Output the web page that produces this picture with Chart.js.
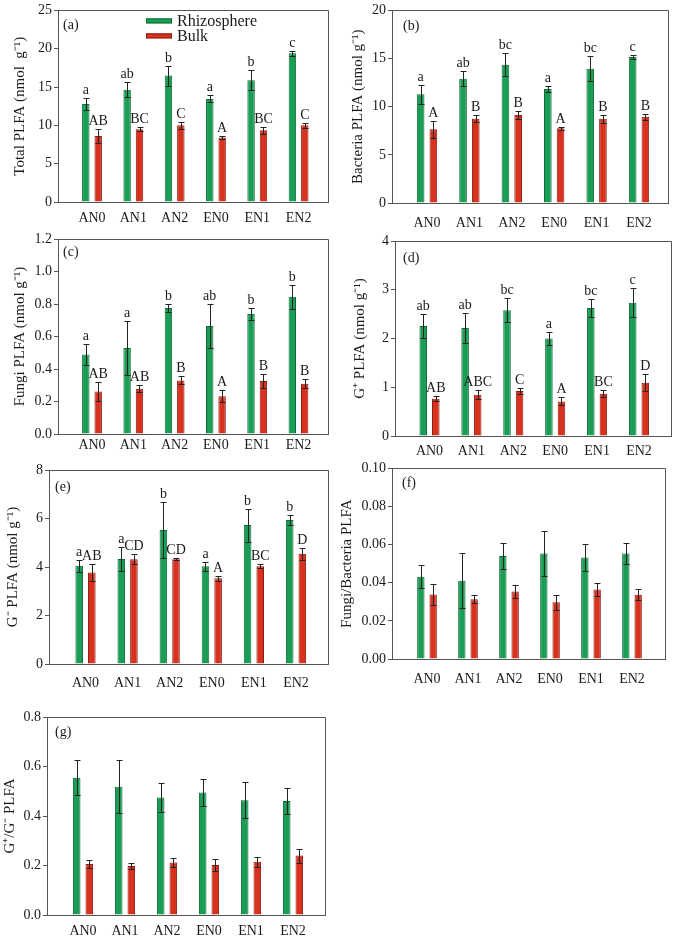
<!DOCTYPE html>
<html>
<head>
<meta charset="utf-8">
<script src="https://cdn.jsdelivr.net/npm/chart.js@4.4.0/dist/chart.umd.min.js"></script>
<style>
  html, body { margin: 0; padding: 0; background: #fff; }
  #page { position: relative; width: 675px; height: 938px; overflow: hidden; }
  #page canvas { position: absolute; }
</style>
</head>
<body>
<div id="page"></div>
<script>
// --- DATA ---
const categories = ['AN0', 'AN1', 'AN2', 'EN0', 'EN1', 'EN2'];
const seriesNames = ['Rhizosphere', 'Bulk'];

// (a) Total PLFA
const totalRhizo = [12.8, 14.65, 16.5, 13.45, 15.9, 19.4];
const totalRhizoErr = [0.8, 0.95, 1.3, 0.45, 1.3, 0.3];
const totalBulk = [8.6, 9.5, 10.0, 8.4, 9.35, 10.0];
const totalBulkErr = [0.95, 0.25, 0.5, 0.15, 0.45, 0.35];
const totalRhizoLetters = ['a', 'ab', 'b', 'a', 'b', 'c'];
const totalBulkLetters = ['AB', 'BC', 'C', 'A', 'BC', 'C'];

// (b) Bacteria PLFA
const bactRhizo = [11.3, 12.9, 14.35, 11.85, 13.95, 15.15];
const bactRhizoErr = [1.0, 0.8, 1.2, 0.3, 1.3, 0.2];
const bactBulk = [7.65, 8.75, 9.15, 7.75, 8.75, 8.95];
const bactBulkErr = [0.9, 0.35, 0.45, 0.15, 0.4, 0.3];
const bactRhizoLetters = ['a', 'ab', 'bc', 'a', 'bc', 'c'];
const bactBulkLetters = ['A', 'B', 'B', 'A', 'B', 'B'];

// (c) Fungi PLFA
const fungiRhizo = [0.49, 0.53, 0.775, 0.665, 0.738, 0.845];
const fungiRhizoErr = [0.065, 0.165, 0.025, 0.135, 0.037, 0.073];
const fungiBulk = [0.262, 0.279, 0.33, 0.233, 0.326, 0.309];
const fungiBulkErr = [0.057, 0.02, 0.025, 0.035, 0.043, 0.027];
const fungiRhizoLetters = ['a', 'a', 'b', 'ab', 'b', 'b'];
const fungiBulkLetters = ['AB', 'AB', 'B', 'A', 'B', 'B'];

// (d) G+ PLFA
const gposRhizo = [2.255, 2.215, 2.58, 2.0, 2.625, 2.735];
const gposRhizoErr = [0.24, 0.31, 0.25, 0.13, 0.19, 0.3];
const gposBulk = [0.766, 0.848, 0.923, 0.71, 0.868, 1.094];
const gposBulkErr = [0.055, 0.09, 0.07, 0.08, 0.075, 0.18];
const gposRhizoLetters = ['ab', 'ab', 'bc', 'a', 'bc', 'c'];
const gposBulkLetters = ['AB', 'ABC', 'C', 'A', 'BC', 'D'];

// (e) G- PLFA
const gnegRhizo = [4.05, 4.33, 5.53, 4.03, 5.73, 5.94];
const gnegRhizoErr = [0.25, 0.5, 1.14, 0.19, 0.68, 0.2];
const gnegBulk = [3.77, 4.32, 4.32, 3.54, 4.03, 4.55];
const gnegBulkErr = [0.34, 0.2, 0.04, 0.1, 0.08, 0.25];
const gnegRhizoLetters = ['a', 'a', 'b', 'a', 'b', 'b'];
const gnegBulkLetters = ['AB', 'CD', 'CD', 'A', 'BC', 'D'];

// (f) Fungi/Bacteria
const fbRhizo = [0.0432, 0.041, 0.054, 0.0554, 0.0532, 0.0554];
const fbRhizoErr = [0.006, 0.0145, 0.0066, 0.012, 0.0071, 0.0054];
const fbBulk = [0.0339, 0.0314, 0.0354, 0.0298, 0.0364, 0.0337];
const fbBulkErr = [0.0054, 0.0022, 0.0036, 0.004, 0.0036, 0.0029];

// (g) G+/G-
const gratioRhizo = [0.555, 0.518, 0.475, 0.495, 0.464, 0.461];
const gratioRhizoErr = [0.07, 0.107, 0.059, 0.054, 0.073, 0.054];
const gratioBulk = [0.206, 0.198, 0.212, 0.202, 0.215, 0.24];
const gratioBulkErr = [0.016, 0.013, 0.018, 0.024, 0.02, 0.028];

// y axis tick settings per panel
const yMaxes = [25, 20, 1.2, 4, 8, 0.10, 0.8];
const ySteps = [5, 5, 0.2, 1, 2, 0.02, 0.2];
const yDecimals = [0, 0, 1, 0, 0, 2, 1];

// --- STYLE / LAYOUT ---
const GREEN = '#1a9e56';
const GREEN_EDGE = '#0e6a38';
const RED = '#d8321f';
const RED_EDGE = '#8e1c10';
const AXIS = '#555555';
const TEXT = '#1a1a1a';
const SERIF = "'Liberation Serif', 'Times New Roman', serif";

// canvas box [x, y, w, h], frame [left, top, right, bottom], group centres of first/last category,
// y title centre x, label gap under x axis, panel tag offset
const panels = [
  { tag: '(a)', title: 'Total PLFA (nmol  g⁻¹)', rhizo: totalRhizo, rhizoErr: totalRhizoErr, bulk: totalBulk, bulkErr: totalBulkErr,
    rLetters: totalRhizoLetters, bLetters: totalBulkLetters, legend: true,
    box: [0, 0, 335, 228], frame: [58, 7, 328, 202], groups: [92, 298.6], titleX: 20, gap: 10, tagPos: [5, 19] },
  { tag: '(b)', title: 'Bacteria PLFA (nmol g⁻¹)', rhizo: bactRhizo, rhizoErr: bactRhizoErr, bulk: bactBulk, bulkErr: bactBulkErr,
    rLetters: bactRhizoLetters, bLetters: bactBulkLetters,
    box: [335, 0, 340, 228], frame: [392, 7, 668, 203], groups: [427, 639], titleX: 358, gap: 14, tagPos: [11, 20] },
  { tag: '(c)', title: 'Fungi PLFA (nmol g⁻¹)', rhizo: fungiRhizo, rhizoErr: fungiRhizoErr, bulk: fungiBulk, bulkErr: fungiBulkErr,
    rLetters: fungiRhizoLetters, bLetters: fungiBulkLetters,
    box: [0, 228, 335, 230], frame: [58, 239, 328, 434], groups: [92, 298.5], titleX: 20, gap: 5, tagPos: [5, 17] },
  { tag: '(d)', title: 'G⁺ PLFA (nmol g⁻¹)', rhizo: gposRhizo, rhizoErr: gposRhizoErr, bulk: gposBulk, bulkErr: gposBulkErr,
    rLetters: gposRhizoLetters, bLetters: gposBulkLetters,
    box: [335, 228, 340, 230], frame: [395, 241, 671, 436], groups: [429.5, 639], titleX: 360, gap: 9, tagPos: [8, 21] },
  { tag: '(e)', title: 'G⁻ PLFA (nmol g⁻¹)', rhizo: gnegRhizo, rhizoErr: gnegRhizoErr, bulk: gnegBulk, bulkErr: gnegBulkErr,
    rLetters: gnegRhizoLetters, bLetters: gnegBulkLetters,
    box: [0, 458, 335, 232], frame: [49, 470, 328, 664], groups: [85.5, 296], titleX: 13, gap: 13, tagPos: [6, 21] },
  { tag: '(f)', title: 'Fungi/Bacteria PLFA', rhizo: fbRhizo, rhizoErr: fbRhizoErr, bulk: fbBulk, bulkErr: fbBulkErr,
    box: [335, 458, 340, 232], frame: [392, 462, 665, 659], groups: [427, 632], titleX: 347, gap: 14, tagPos: [10, 19] },
  { tag: '(g)', title: 'G⁺/G⁻ PLFA', rhizo: gratioRhizo, rhizoErr: gratioRhizoErr, bulk: gratioBulk, bulkErr: gratioBulkErr,
    box: [0, 690, 335, 248], frame: [47, 717, 325, 915], groups: [83, 293], titleX: 10, gap: 10, tagPos: [8, 19] }
];

// error bars + significance letters
const errorBarPlugin = {
  id: 'errorBars',
  afterDatasetsDraw(chart) {
    const ctx = chart.ctx;
    const yScale = chart.scales.y;
    chart.data.datasets.forEach((ds, di) => {
      const meta = chart.getDatasetMeta(di);
      meta.data.forEach((bar, i) => {
        const v = ds.data[i].y;
        const e = ds.err[i];
        const x = Math.round(bar.x) + 0.5;
        const top = Math.round(yScale.getPixelForValue(v + e)) + 0.5;
        const bot = Math.round(yScale.getPixelForValue(v - e)) + 0.5;
        ctx.save();
        ctx.strokeStyle = '#222';
        ctx.lineWidth = 1;
        ctx.beginPath();
        ctx.moveTo(x, top); ctx.lineTo(x, bot);
        ctx.moveTo(x - 3, top); ctx.lineTo(x + 3, top);
        ctx.moveTo(x - 3, bot); ctx.lineTo(x + 3, bot);
        ctx.stroke();
        if (ds.letters) {
          ctx.fillStyle = TEXT;
          ctx.font = '14px ' + SERIF;
          ctx.textAlign = 'center';
          ctx.textBaseline = 'alphabetic';
          ctx.fillText(ds.letters[i], bar.x, top - 5);
        }
        ctx.restore();
      });
    });
  }
};

// top/right frame, panel tag, legend
const framePlugin = {
  id: 'frame',
  afterDraw(chart) {
    const ctx = chart.ctx;
    const a = chart.chartArea;
    const p = chart.options.plugins.frame;
    ctx.save();
    ctx.strokeStyle = AXIS;
    ctx.lineWidth = 1;
    ctx.beginPath();
    ctx.moveTo(Math.round(a.left), Math.round(a.top) + 0.5);
    ctx.lineTo(Math.round(a.right) + 0.5, Math.round(a.top) + 0.5);
    ctx.lineTo(Math.round(a.right) + 0.5, Math.round(a.bottom));
    ctx.stroke();

    ctx.fillStyle = TEXT;
    ctx.font = '14px ' + SERIF;
    ctx.textAlign = 'left';
    ctx.textBaseline = 'alphabetic';
    ctx.fillText(p.tag, a.left + p.tagPos[0], a.top + p.tagPos[1]);

    if (p.legend) {
      ctx.font = '16px ' + SERIF;
      chart.data.datasets.forEach((ds, i) => {
        const cy = a.top + 10.5 + i * 15;
        const bx = a.left + 88;
        ctx.fillStyle = ds.backgroundColor;
        ctx.fillRect(bx, cy - 2.5, 26, 5);
        ctx.strokeStyle = ds.borderColor;
        ctx.strokeRect(bx + 0.5, cy - 2.5 + 0.5, 25, 4);
        ctx.fillStyle = TEXT;
        ctx.fillText(ds.label, a.left + 119, cy + 5);
      });
    }
    ctx.restore();
  }
};

const page = document.getElementById('page');

panels.forEach((p, k) => {
  const [cx, cy, cw, ch] = p.box;
  const [L, T, R, B] = p.frame;
  const unit = (p.groups[1] - p.groups[0]) / (categories.length - 1);
  const xMin = -(p.groups[0] - L) / unit;
  const xMax = (categories.length - 1) + (R - p.groups[1]) / unit;

  const canvas = document.createElement('canvas');
  canvas.width = cw;
  canvas.height = ch;
  canvas.style.left = cx + 'px';
  canvas.style.top = cy + 'px';
  canvas.style.width = cw + 'px';
  canvas.style.height = ch + 'px';
  page.appendChild(canvas);

  const makeSet = (label, vals, errs, letters, fill, edge) => ({
    label: label,
    data: vals.map((v, i) => ({ x: i, y: v })),
    err: errs,
    letters: letters,
    backgroundColor: fill,
    borderColor: edge,
    borderWidth: 1,
    categoryPercentage: 0.6,
    barPercentage: 0.6
  });

  new Chart(canvas, {
    type: 'bar',
    data: {
      datasets: [
        makeSet(seriesNames[0], p.rhizo, p.rhizoErr, p.rLetters, GREEN, GREEN_EDGE),
        makeSet(seriesNames[1], p.bulk, p.bulkErr, p.bLetters, RED, RED_EDGE)
      ]
    },
    options: {
      responsive: false,
      animation: false,
      devicePixelRatio: 1,
      layout: { padding: { top: T - cy, right: cx + cw - R, left: 0, bottom: 0 } },
      plugins: {
        legend: { display: false },
        tooltip: { enabled: false },
        frame: { tag: p.tag, tagPos: p.tagPos, legend: !!p.legend }
      },
      scales: {
        x: {
          type: 'linear',
          offset: false,
          min: xMin,
          max: xMax,
          grid: { display: false, drawTicks: false },
          border: { display: true, color: AXIS, width: 1 },
          ticks: {
            autoSkip: false,
            maxRotation: 0,
            padding: p.gap - 2,
            color: TEXT,
            font: { family: SERIF, size: 14 },
            callback: v => categories[v]
          },
          afterBuildTicks: s => { s.ticks = categories.map((c, i) => ({ value: i })); },
          afterFit: s => { s.height = cy + ch - B; }
        },
        y: {
          min: 0,
          max: yMaxes[k],
          grid: { drawOnChartArea: false, tickLength: 4, color: AXIS },
          border: { display: true, color: AXIS, width: 1 },
          ticks: {
            stepSize: ySteps[k],
            padding: 2,
            color: TEXT,
            font: { family: SERIF, size: 14 },
            callback: v => Number(v).toFixed(yDecimals[k])
          },
          title: {
            display: true,
            text: p.title,
            color: TEXT,
            font: { family: SERIF, size: 15 },
            padding: { top: Math.max(0, p.titleX - cx - 9), bottom: 0 }
          },
          afterFit: s => { s.width = L - cx; }
        }
      }
    },
    plugins: [errorBarPlugin, framePlugin]
  });
});
</script>
</body>
</html>
